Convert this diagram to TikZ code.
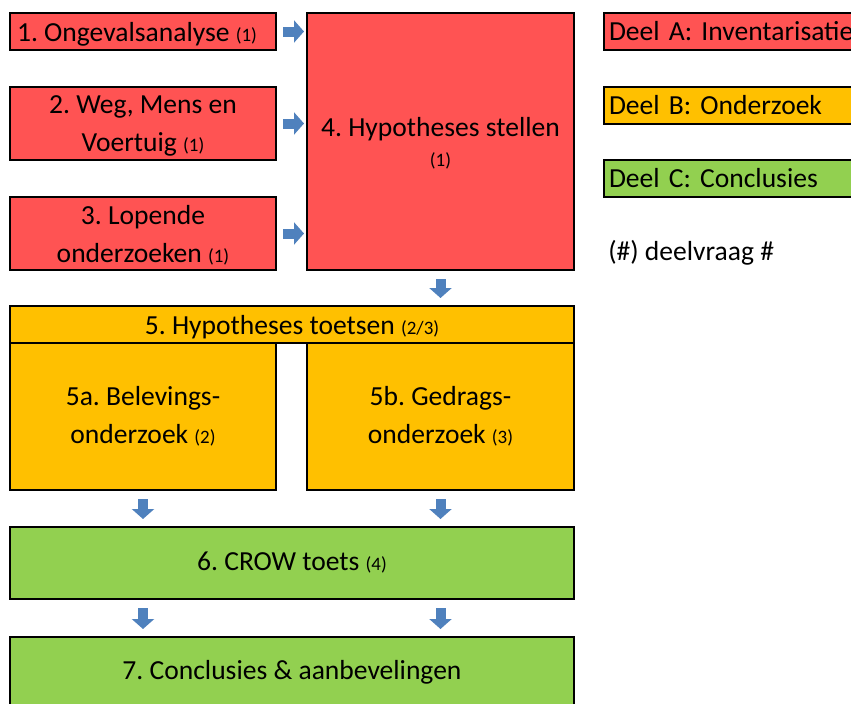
\documentclass[tikz,border=0pt]{standalone}
\usepackage{fontspec}
\setmainfont{Carlito}
\usepackage{tikz}
\usetikzlibrary{positioning, arrows.meta}
\definecolor{partA}{HTML}{FF5353}
\definecolor{partB}{HTML}{FFC000}
\definecolor{partC}{HTML}{92D050}
\definecolor{arrowblue}{HTML}{4F81BD}
\frenchspacing
\newcommand{\dv}[1]{{\fontsize{13.5}{16}\selectfont(#1)}}
\tikzset{every node/.style={font=\fontsize{19.6}{27}\selectfont}}
\tikzstyle{boxA} = [rectangle, 
draw=black, line width=1.3pt, 
fill=partA, 
minimum width=6.65cm, 
text centered, align=center, text depth=0pt, inner sep=0pt, outer sep=0pt]
\tikzstyle{boxB} = [rectangle, 
draw=black, line width=1.3pt, 
fill=partB, 
minimum width=6.65cm, 
text centered, align=center, inner sep=0pt, outer sep=0pt]
\tikzstyle{boxC} = [rectangle, 
draw=black, line width=1.3pt, 
fill=partC, 
minimum width=14.1cm, 
text centered, align=center, inner sep=0pt, outer sep=0pt]
\tikzstyle{legend} = [rectangle, 
draw=black, line width=1.3pt, 
minimum width=8cm, 
minimum height=0.925cm, 
text width=7.75cm, align=left, inner sep=0.125cm, outer sep=0pt]
\tikzstyle{blockh} = [draw=arrowblue, line width=0.25cm, 
-{Triangle[width=0.55cm, length=0.25cm]}, 
shorten <=0.175cm, shorten >=0.075cm]
\tikzstyle{blockv} = [draw=arrowblue, line width=0.25cm, 
-{Triangle[width=0.55cm, length=0.25cm]}, 
shorten <=0.225cm, shorten >=0.2cm]

\begin{document}
\begin{tikzpicture}
\useasboundingbox (0,0) rectangle (21.275,-17.575);
\clip (0,0) rectangle (21.275,-17.575);

% Deel A
\node (b1) [boxA, minimum height=0.925cm, anchor=north west] at (0.25,-0.325) {1. Ongevalsanalyse \dv{1}\hspace*{0.3cm}};
\node (b2) [boxA, minimum height=1.825cm, below=0.925cm of b1.south west, anchor=north west] {2. Weg, Mens en\\Voertuig \dv{1}};
\node (b3) [boxA, minimum height=1.825cm, below=0.925cm of b2.south west, anchor=north west] {3. Lopende\\onderzoeken \dv{1}};
\node (b4) [boxA, minimum width=6.675cm, minimum height=6.425cm, right=0.775cm of b1.north east, anchor=north west] {4. Hypotheses stellen\\[-5.7pt]\dv{1}};
\draw [blockh] (b1.east) -- (b1.east -| b4.west);
\draw [blockh] (b2.east) -- (b2.east -| b4.west);
\draw [blockh] (b3.east) -- (b3.east -| b4.west);

% Deel B
\node (b5) [boxB, minimum width=14.1cm, minimum height=0.925cm, text depth=0pt, below=0.9cm of b3.south west, anchor=north west] {5. Hypotheses toetsen \dv{2/3}};
\draw [blockv] (b4.south) -- (b5.north -| b4.south);
\node (b5a) [boxB, minimum height=3.675cm, below=0pt of b5.south west, anchor=north west] {5a. Belevings-\\onderzoek \dv{2}};
\node (b5b) [boxB, minimum width=6.675cm, minimum height=3.675cm, below=0pt of b5.south east, anchor=north east] {5b. Gedrags-\\onderzoek \dv{3}};

% Deel C
\node (b6) [boxC, minimum height=1.8cm, below=0.925cm of b5a.south west, anchor=north west] {6. CROW toets \dv{4}};
\draw [blockv] (b5a.south) -- (b6.north -| b5a.south);
\draw [blockv] (b5b.south) -- (b6.north -| b5b.south);
\node (b7) [boxC, minimum height=2.5cm, below=0.95cm of b6.south west, anchor=north west, text depth=0.85cm] {7. Conclusies \& aanbevelingen};
\draw [blockv] (b6.south -| b5a.south) -- (b7.north -| b5a.south);
\draw [blockv] (b6.south -| b5b.south) -- (b7.north -| b5b.south);

% legenda
\node (lA) [legend, fill=partA, right=0.75cm of b4.north east, anchor=north west] {Deel A: Inventarisatie};
\node (lB) [legend, fill=partB, below=0.925cm of lA.south west, anchor=north west] {Deel B: Onderzoek};
\node (lC) [legend, fill=partC, below=0.9cm of lB.south west, anchor=north west] {Deel C: Conclusies};
\node (note) [inner sep=0pt, below right=1.4cm and 0.1cm of lC.south west, anchor=west] {(\#) deelvraag \#};

\end{tikzpicture}
\end{document}
